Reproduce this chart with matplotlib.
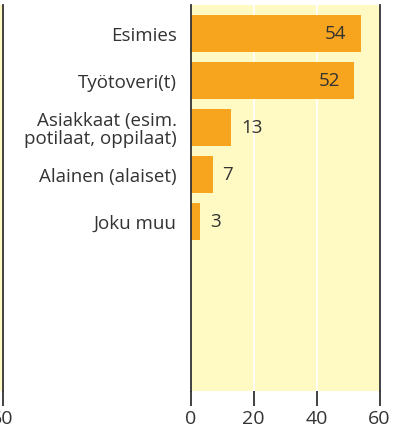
import matplotlib.pyplot as plt

categories = ["Esimies", "Työtoveri(t)", "Asiakkaat (esim.\npotilaat, oppilaat)",
              "Alainen (alaiset)", "Joku muu"]
values = [54, 52, 13, 7, 3]
ticks = [0, 20, 40, 60]

BAR = "#F7A51E"
BG = "#FFF9C4"
DARK = "#333333"

plt.rcParams["font.family"] = ["Open Sans", "DejaVu Sans"]

W, H = 403, 428
fig = plt.figure(figsize=(W / 100, H / 100), dpi=100)

x0, x1 = 190.5, 379.5
top, bot = 5, 391
pos = [x0 / W, 1 - bot / H, (x1 - x0) / W, (bot - top) / H]


def style(ax, xt):
    ax.set_facecolor(BG)
    ax.set_xlim(0, 60)
    ax.set_xticks(xt)
    ax.set_xticklabels([str(t) for t in xt])
    for s in ["top", "bottom"]:
        ax.spines[s].set_visible(False)
    for s in ["left", "right"]:
        ax.spines[s].set_color(DARK)
        ax.spines[s].set_linewidth(1.3)
    ax.tick_params(axis="x", length=11, width=1.3, color=DARK, labelcolor=DARK,
                   labelsize=14, pad=3, direction="out")
    ax.tick_params(axis="y", length=0)
    ax.grid(axis="x", color="white", linewidth=1.2)
    ax.set_axisbelow(True)


# neighbouring panel, cut off at the left edge (only its last tick shows)
left_w = x1 - x0
ax0 = fig.add_axes([(2.5 - left_w) / W, pos[1], left_w / W, pos[3]])
style(ax0, [60])
ax0.set_yticks([])

ax = fig.add_axes(pos)
style(ax, ticks)

slot = 47.0
n_slots = (bot - top) / slot
ax.set_ylim(n_slots - 0.61, -0.61)
ax0.set_ylim(n_slots - 0.61, -0.61)

ypos = list(range(len(categories)))
ax.barh(ypos, values, height=0.79, color=BAR, zorder=2)
ax.set_yticks(ypos)
ax.set_yticklabels(categories, fontsize=13.5, color=DARK, linespacing=1.0)
ax.tick_params(axis="y", pad=10)
for lbl in ax.get_yticklabels():
    lbl.set_horizontalalignment("right")
    lbl.set_multialignment("right")

for y, v in zip(ypos, values):
    if v > 20:
        ax.annotate(str(v), (v, y), xytext=(-14, 0), textcoords="offset pixels",
                    ha="right", va="center", fontsize=13.5, color=DARK, zorder=3)
    else:
        ax.annotate(str(v), (v, y), xytext=(10, 0), textcoords="offset pixels",
                    ha="left", va="center", fontsize=13.5, color=DARK, zorder=3)

fig.savefig("out.png", dpi=100)
